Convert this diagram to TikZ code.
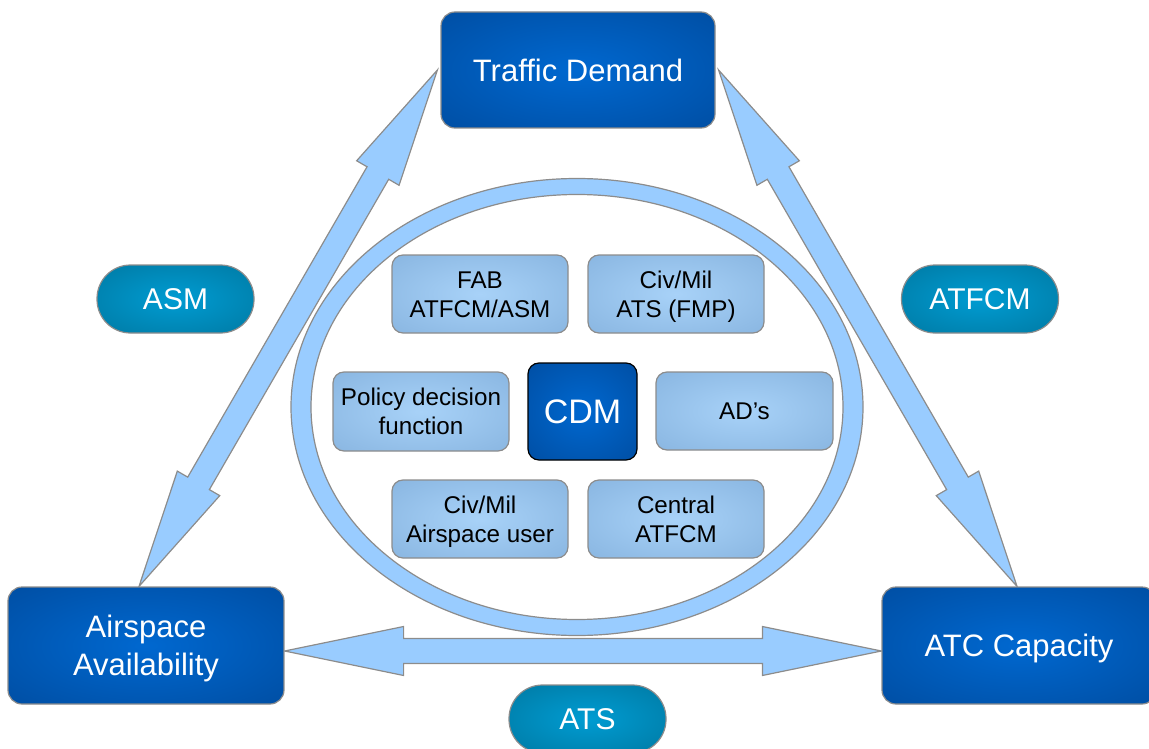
\documentclass[tikz,border=0pt]{standalone}
\usepackage{fontspec}
\setmainfont{Liberation Sans}
\usetikzlibrary{calc,backgrounds}
\definecolor{arrfill}{RGB}{153,204,255}
\definecolor{edgegray}{RGB}{140,140,140}
\definecolor{dbIn}{RGB}{0,104,208}
\definecolor{dbOut}{RGB}{0,74,156}
\definecolor{tlIn}{RGB}{0,156,210}
\definecolor{tlOut}{RGB}{0,116,156}
\definecolor{lbIn}{RGB}{168,210,248}
\definecolor{lbOut}{RGB}{132,177,221}
\pgfdeclareradialshading{darkglow}{\pgfpoint{0bp}{0bp}}{color(0bp)=(dbIn); color(42bp)=(dbOut); color(80bp)=(dbOut)}
\pgfdeclareradialshading{tealglow}{\pgfpoint{0bp}{0bp}}{color(0bp)=(tlIn); color(42bp)=(tlOut); color(80bp)=(tlOut)}
\pgfdeclareradialshading{lightglow}{\pgfpoint{0bp}{0bp}}{color(0bp)=(lbIn); color(42bp)=(lbOut); color(80bp)=(lbOut)}
\tikzset{
 darkbox/.style={draw=edgegray, line width=1.2pt, rounded corners=14pt, shade, shading=darkglow, text=white, font=\fontsize{31}{38}\selectfont, align=center, inner sep=0pt, text height=22.2pt, text depth=0pt},
 pill/.style={draw=edgegray, line width=1.2pt, rounded corners=33.5pt, shade, shading=tealglow, text=white, font=\fontsize{30}{36}\selectfont, minimum width=157pt, minimum height=68pt, inner sep=0pt, text height=21.5pt, text depth=0pt},
 inbox/.style={draw=edgegray, line width=1.2pt, rounded corners=11pt, shade, shading=lightglow, text=black, font=\fontsize{24.2}{29}\selectfont, align=center, minimum height=78pt, minimum width=176pt, inner sep=0pt, text height=46.3pt, text depth=0pt},
 cdmbox/.style={draw=black, line width=1.2pt, rounded corners=11pt, shade, shading=darkglow, text=white, font=\fontsize{34}{40}\selectfont, minimum width=109pt, minimum height=97pt, inner sep=0pt, text height=24.3pt, text depth=0pt},
 fatarrow/.style={fill=arrfill, draw=edgegray, line width=1.2pt, line join=miter},
 ring/.style={fill=arrfill, draw=edgegray, line width=1.2pt, even odd rule}
}
\newcommand\fatdbl[2]{%
 \draw[fatarrow] (#1)
 -- ($(#1)!119pt!(#2)!24.5pt!90:(#2)$)
 -- ($(#1)!119pt!(#2)!12.5pt!90:(#2)$)
 -- ($(#2)!119pt!(#1)!12.5pt!-90:(#1)$)
 -- ($(#2)!119pt!(#1)!24.5pt!-90:(#1)$)
 -- (#2)
 -- ($(#2)!119pt!(#1)!24.5pt!90:(#1)$)
 -- ($(#2)!119pt!(#1)!12.5pt!90:(#1)$)
 -- ($(#1)!119pt!(#2)!12.5pt!-90:(#2)$)
 -- ($(#1)!119pt!(#2)!24.5pt!-90:(#2)$)
 -- cycle;}
\begin{document}
\begin{tikzpicture}[x=1pt,y=-1pt]
\useasboundingbox (0,0) rectangle (1149,749);
% main boxes
\node[darkbox, minimum width=274pt, minimum height=116pt] (TD) at (578,70) {Traffic Demand};
\node[darkbox, minimum width=276pt, minimum height=117pt, text height=60.2pt] (AA) at (146,645.5) {Airspace\\Availability};
\node[darkbox, minimum width=274pt, minimum height=117pt] (ATC) at (1019,645.5) {ATC Capacity};
% pills
\node[pill] (ASM) at (175.5,299) {ASM};
\node[pill] (ATFCM) at (980,299) {ATFCM};
\node[pill] (ATS) at (587.5,719) {ATS};
% inner boxes
\node[inbox] (FAB) at (480,294) {FAB\\ATFCM/ASM};
\node[inbox] (CMATS) at (676,294) {Civ/Mil\\ATS (FMP)};
\node[inbox, minimum height=79pt] (PDF) at (421,411.5) {Policy decision\\function};
\node[cdmbox] (CDM) at (582.5,411.5) {CDM};
\node[inbox, minimum height=78pt, minimum width=177pt, text height=17.3pt] (AD) at (744.5,411) {AD’s};
\node[inbox] (CMAU) at (480,519) {Civ/Mil\\Airspace user};
\node[inbox] (CATFCM) at (676,519) {Central\\ATFCM};
% connectors
\coordinate (E) at (577,407);
\coordinate (L1) at ([xshift=-3pt]TD.west);
\coordinate (L2) at ([xshift=-7pt]AA.north);
\coordinate (R1) at ([xshift=3pt]TD.east);
\coordinate (R2) at ([xshift=-2pt]ATC.north);
\coordinate (H1) at ([yshift=-5.5pt]AA.east);
\coordinate (H2) at ([yshift=-5.5pt]ATC.west);
\begin{scope}[on background layer]
\draw[ring] (E) ellipse (286pt and 228.5pt) (E) ellipse (266pt and 212.5pt);
\fatdbl{L1}{L2}
\fatdbl{R1}{R2}
\fatdbl{H1}{H2}
\end{scope}
\end{tikzpicture}
\end{document}
